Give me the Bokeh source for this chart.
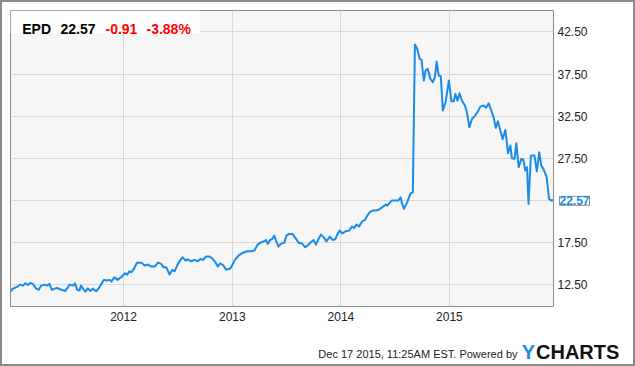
import pandas as pd
from bokeh.plotting import figure
from bokeh.models import (ColumnDataSource, FixedTicker, DatetimeTickFormatter,
                          NumeralTickFormatter, Label, BoxAnnotation, Range1d)
from bokeh.embed import file_html
from bokeh.resources import INLINE

# ---------------- data ----------------
dates = [
    "2010-12-17", "2010-12-24", "2011-01-11", "2011-01-19", "2011-01-28", "2011-02-05",
    "2011-02-14", "2011-02-21", "2011-03-02", "2011-03-14", "2011-03-22", "2011-03-30",
    "2011-04-11", "2011-04-19", "2011-04-27", "2011-05-05", "2011-05-14", "2011-05-23",
    "2011-06-05", "2011-06-19", "2011-06-28", "2011-07-04", "2011-07-15", "2011-07-22",
    "2011-07-29", "2011-08-06", "2011-08-11", "2011-08-20", "2011-08-26", "2011-09-03",
    "2011-09-11", "2011-09-20", "2011-10-01", "2011-10-12", "2011-10-27", "2011-11-06",
    "2011-11-15", "2011-11-22", "2011-12-01", "2011-12-12", "2011-12-24", "2012-01-06",
    "2012-01-13", "2012-01-21", "2012-01-28", "2012-02-07", "2012-02-15", "2012-03-01",
    "2012-03-12", "2012-03-23", "2012-04-03", "2012-04-15", "2012-04-26", "2012-05-07",
    "2012-05-15", "2012-05-24", "2012-06-04", "2012-06-13", "2012-06-21", "2012-07-02",
    "2012-07-13", "2012-07-18", "2012-07-28", "2012-08-04", "2012-08-16", "2012-08-27",
    "2012-09-07", "2012-09-16", "2012-09-24", "2012-10-05", "2012-10-16", "2012-10-27",
    "2012-11-05", "2012-11-13", "2012-11-21", "2012-11-30", "2012-12-11", "2012-12-22",
    "2012-12-28", "2013-01-08", "2013-01-19", "2013-01-30", "2013-02-10", "2013-02-21",
    "2013-03-05", "2013-03-16", "2013-03-27", "2013-04-07", "2013-04-18", "2013-04-24",
    "2013-04-30", "2013-05-08", "2013-05-16", "2013-05-22", "2013-05-28", "2013-06-05",
    "2013-06-13", "2013-06-25", "2013-07-02", "2013-07-11", "2013-07-22", "2013-08-03",
    "2013-08-14", "2013-08-23", "2013-09-03", "2013-09-14", "2013-09-25", "2013-10-01",
    "2013-10-09", "2013-10-18", "2013-10-26", "2013-11-06", "2013-11-13", "2013-11-25",
    "2013-12-04", "2013-12-13", "2013-12-20", "2013-12-28", "2014-01-06", "2014-01-17",
    "2014-01-29", "2014-02-07", "2014-02-15", "2014-02-22", "2014-03-03", "2014-03-14",
    "2014-03-23", "2014-03-31", "2014-04-08", "2014-04-17", "2014-04-28", "2014-05-07",
    "2014-05-20", "2014-06-01", "2014-06-06", "2014-06-21", "2014-07-04", "2014-07-13",
    "2014-07-21", "2014-07-26", "2014-08-01", "2014-08-12", "2014-08-23", "2014-08-31",
    "2014-09-07", "2014-09-15", "2014-09-23", "2014-09-29", "2014-10-07", "2014-10-13",
    "2014-10-20", "2014-10-29", "2014-11-06", "2014-11-13", "2014-11-19", "2014-11-26",
    "2014-12-03", "2014-12-10", "2014-12-19", "2014-12-30", "2015-01-08", "2015-01-16",
    "2015-01-21", "2015-01-28", "2015-02-04", "2015-02-12", "2015-02-22", "2015-03-01",
    "2015-03-09", "2015-03-18", "2015-03-29", "2015-04-07", "2015-04-15", "2015-04-26",
    "2015-05-04", "2015-05-13", "2015-05-22", "2015-05-30", "2015-06-06", "2015-06-13",
    "2015-06-21", "2015-06-29", "2015-07-08", "2015-07-17", "2015-07-25", "2015-07-30",
    "2015-08-08", "2015-08-14", "2015-08-22", "2015-08-31", "2015-09-07", "2015-09-13",
    "2015-09-19", "2015-09-24", "2015-10-02", "2015-10-14", "2015-10-22", "2015-10-30",
    "2015-11-06", "2015-11-13", "2015-11-24", "2015-12-02", "2015-12-11", "2015-12-17",
]
prices = [
    11.67, 11.99, 12.30, 12.50, 12.38, 12.65,
    12.46, 12.70, 12.58, 11.99, 11.90, 12.38,
    12.50, 12.38, 12.58, 11.87, 12.02, 12.10,
    11.90, 11.75, 12.18, 12.50, 12.38, 12.65,
    11.90, 11.79, 12.38, 11.90, 11.67, 12.06,
    11.75, 12.02, 11.70, 12.18, 13.06, 12.98,
    13.06, 12.86, 13.37, 13.06, 13.37, 13.84,
    13.69, 14.08, 13.96, 14.48, 15.10, 15.11,
    14.76, 14.88, 14.64, 14.64, 15.11, 14.96,
    14.55, 14.55, 13.69, 14.24, 14.08, 14.96,
    15.55, 15.74, 15.35, 15.50, 15.27, 15.43,
    15.27, 15.55, 15.43, 15.83, 15.83, 15.55,
    15.15, 14.64, 15.03, 14.84, 14.28, 14.36,
    14.55, 15.35, 15.83, 16.15, 16.34, 16.46,
    16.46, 16.54, 17.25, 17.52, 17.64, 17.80,
    17.33, 17.80, 17.93, 18.32, 17.73, 17.01,
    17.33, 17.49, 18.32, 18.52, 18.52, 17.93,
    17.40, 17.40, 16.93, 17.25, 17.61, 17.80,
    17.25, 17.93, 18.44, 18.05, 17.64, 18.20,
    17.80, 17.88, 18.44, 18.91, 18.59, 18.83,
    18.91, 19.39, 19.23, 19.63, 19.42, 20.02,
    20.18, 20.70, 21.09, 21.29, 21.29, 21.37,
    21.68, 22.00, 21.88, 22.48, 22.48, 22.48,
    22.87, 22.08, 21.49, 22.27, 23.34, 23.46,
    41.00, 40.49, 39.30, 39.22, 36.73, 37.92,
    38.12, 36.93, 36.53, 37.12, 38.98, 37.32,
    37.24, 33.17, 34.15, 36.73, 34.27, 34.27,
    35.15, 34.35, 35.22, 34.35, 33.76, 32.96,
    31.18, 32.18, 32.57, 33.08, 33.64, 33.76,
    33.49, 34.03, 33.17, 32.30, 31.11, 31.89,
    30.79, 29.80, 30.87, 28.10, 29.01, 27.50,
    27.43, 29.29, 26.43, 27.43, 27.31, 26.04,
    26.43, 22.08, 27.82, 27.82, 25.96, 28.21,
    26.63, 26.24, 25.25, 22.68, 22.48, 22.57,
]
y_ticks = [12.5, 17.5, 22.5, 27.5, 32.5, 37.5, 42.5]
year_ticks = ["2012", "2013", "2014", "2015"]

ticker_sym = "EPD"
last_price = "22.57"
change_abs = "-0.91"
change_pct = "-3.88%"
footer_text = "Dec 17 2015, 11:25AM EST. Powered by"

# ---------------- figure ----------------
BLUE = "#1a8be6"
FONT = "Liberation Sans"

x_start = pd.Timestamp("2010-12-17")
x_end = pd.Timestamp("2015-12-17")
y_start, y_end = 9.9, 45.05

src = ColumnDataSource(dict(date=pd.to_datetime(dates), price=prices))

p = figure(width=631, height=362, x_axis_type="datetime", y_axis_location="right",
           x_range=Range1d(x_start, x_end), y_range=Range1d(y_start, y_end),
           output_backend="svg", toolbar_location=None,
           min_border_left=8, min_border_top=8, min_border_right=78, min_border_bottom=58)

# outer grey frame of the whole widget
p.styles = {"margin": "2px", "box-shadow": "0 0 0 2px #8c8c8c"}

p.background_fill_color = "#f6f6f6"
p.border_fill_color = "#ffffff"
p.outline_line_color = "#8c8c8c"
p.outline_line_width = 1

# grid
p.xgrid.grid_line_color = "#d9d9d9"
p.ygrid.grid_line_color = "#d9d9d9"
p.xgrid.grid_line_width = 1
p.ygrid.grid_line_width = 1

# axes
year_ms = [pd.Timestamp(f"{y}-01-01").value / 1e6 for y in year_ticks]
p.xaxis.ticker = FixedTicker(ticks=year_ms)
p.xaxis.formatter = DatetimeTickFormatter(years="%Y", months="%Y", days="%Y")
p.yaxis.ticker = FixedTicker(ticks=y_ticks)
p.yaxis.formatter = NumeralTickFormatter(format="0.00")
p.yaxis.major_label_overrides = {22.5: ""}   # hidden behind the last-price tag

for ax in (p.xaxis[0], p.yaxis[0]):
    ax.axis_line_color = None
    ax.major_tick_line_color = None
    ax.minor_tick_line_color = None
    ax.major_tick_out = 0
    ax.major_tick_in = 0
    ax.minor_tick_out = 0
    ax.minor_tick_in = 0
    ax.major_label_text_font = FONT
    ax.major_label_text_font_size = "12px"
    ax.major_label_text_color = "#222222"
p.xaxis.major_label_standoff = 5
p.yaxis.major_label_standoff = 4

# line
p.line("date", "price", source=src, line_color=BLUE, line_width=2, line_join="round")

# header box (white) in top-left of plot area
frame_w = 545.0
frame_h = 296.0
hdr_right = x_start + (x_end - x_start) * (190.0 / frame_w)
hdr_bottom = y_end - (y_end - y_start) * (22.7 / frame_h)
p.add_layout(BoxAnnotation(left=x_start, right=hdr_right, top=y_end, bottom=hdr_bottom,
                           fill_color="#ffffff", fill_alpha=0.95, line_color=None))

def hdr_label(text, xoff, color):
    return Label(x=x_start, y=y_end, x_offset=xoff, y_offset=-18.3, text=text,
                 text_font=FONT, text_font_size="14px", text_font_style="bold",
                 text_color=color, text_baseline="alphabetic", text_align="left")

p.add_layout(hdr_label(ticker_sym, 11.7, "#000000"))
p.add_layout(hdr_label(last_price, 50, "#000000"))
p.add_layout(hdr_label(change_abs, 95, "#ff0000"))
p.add_layout(hdr_label(change_pct, 136, "#ff0000"))

# last-price tag on right axis (side panel, so it is not clipped to the frame)
p.add_layout(Label(x=x_end, y=float(prices[-1]), x_offset=6, y_offset=-1, text=last_price,
                   text_font=FONT, text_font_size="12px", text_font_style="bold",
                   text_color=BLUE, text_baseline="middle", text_align="left",
                   border_line_color="#8c8c8c", background_fill_color="#ffffff"), "right")

# footer: labels are positioned from data anchors, spread over side panels
# so that the panels do not grow past the fixed borders
p.add_layout(Label(x=x_end, y=y_start, x_offset=-36, y_offset=-47, text=footer_text,
                   text_font=FONT, text_font_size="11px", text_color="#222222",
                   text_baseline="alphabetic", text_align="right"), "below")
p.add_layout(Label(x=x_end, y=y_start, x_offset=-17.5, y_offset=-45.5, text="CHARTS",
                   text_font=FONT, text_font_size="20px", text_font_style="bold",
                   text_color="#111111",
                   text_baseline="alphabetic", text_align="left"), "below")
p.add_layout(Label(x=x_end, y=y_start, x_offset=-18.5, y_offset=-45.5, text="Y",
                   text_font=FONT, text_font_size="20px", text_font_style="bold",
                   text_color=BLUE,
                   text_baseline="alphabetic", text_align="right"), "right")

open("out.html", "w").write(file_html(p, INLINE))
